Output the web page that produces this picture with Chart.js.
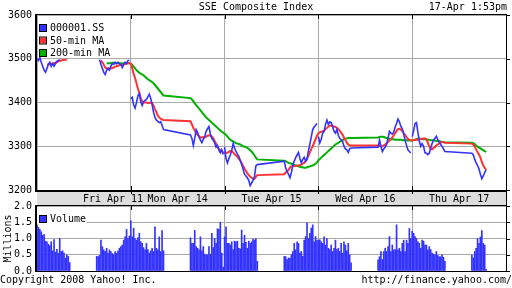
<!DOCTYPE html>
<html>
<head>
<meta charset="utf-8">
<script src="https://cdn.jsdelivr.net/npm/chart.js@4.4.1/dist/chart.umd.min.js"></script>
<style>
  html, body { margin: 0; padding: 0; background: #fff; }
  #wrap { position: relative; width: 512px; height: 288px; overflow: hidden; }
  #price { position: absolute; left: 0; top: 0; }
  #vol { position: absolute; left: 0; top: 195px; }
</style>
</head>
<body>
<div id="wrap">
  <canvas id="price" width="512" height="207"></canvas>
  <canvas id="vol" width="512" height="93"></canvas>
</div>
<script>
// one trading day = 66 five-minute slots (9:30 - 15:00), lunch 11:30-13:00 left empty
const DAY = 66;
const PM_START = 42;

const dayLabels = ['Fri Apr 11', 'Mon Apr 14', 'Tue Apr 15', 'Wed Apr 16', 'Thu Apr 17'];
const priceTicks = [3200, 3300, 3400, 3500, 3600];
const volTicks = [0, 0.5, 1.0, 1.5, 2.0];

// 000001.SS, 5-min closes (morning / afternoon session per day)
const closeAM = [
  [3500, 3496, 3503, 3492, 3483, 3474, 3469, 3478, 3487, 3492, 3483, 3489, 3483, 3489, 3494, 3496, 3498, null, null, null, null, null, null, null],
  [3409, 3412, 3394, 3387, 3400, 3415, 3420, 3402, 3393, 3401, 3405, 3407, 3413, 3419, 3410, 3395, 3378, 3366, 3360, 3357, 3354, 3356, 3348, 3338],
  [3298, 3272, 3262, 3272, 3280, 3290, 3306, 3296, 3288, 3282, 3277, 3268, 3258, 3248, 3236, 3232, 3228, 3222, 3210, 3216, 3222, 3230, 3255, 3258],
  [3322, 3308, 3316, 3330, 3334, 3350, 3360, 3350, 3356, 3354, 3345, 3334, 3330, 3338, 3325, 3318, 3315, 3311, 3300, 3294, 3292, 3286, 3294, 3296],
  [3322, 3335, 3352, 3354, 3332, 3312, 3300, 3306, 3300, 3285, 3284, 3281, 3284, 3296, 3306, 3314, 3318, 3323, 3315, 3311, 3304, 3300, 3294, 3288]
];
const closePM = [
  [null, null, 3498, 3487, 3478, 3469, 3464, 3474, 3478, 3474, 3483, 3489, 3487, 3492, 3489, 3492, 3489, 3487, 3480, 3487, 3492, 3489, 3496, 3496],
  [3326, 3318, 3302, 3318, 3338, 3332, 3321, 3314, 3308, 3316, 3322, 3334, 3340, 3345, 3328, 3318, 3314, 3308, 3298, 3302, 3291, 3285, 3292, 3281],
  [3266, 3250, 3242, 3236, 3228, 3240, 3256, 3266, 3274, 3280, 3286, 3272, 3262, 3270, 3275, 3266, 3270, 3290, 3305, 3322, 3338, 3344, 3348, 3352],
  [3298, 3314, 3300, 3288, 3294, 3298, 3304, 3318, 3334, 3330, 3328, 3332, 3344, 3352, 3362, 3356, 3346, 3340, 3328, 3314, 3302, 3292, 3288, 3285],
  [3284, 3280, 3270, 3262, 3256, 3248, 3236, 3226, 3232, 3240, 3246]
];

// 50-min MA
const ma50AM = [
  [null, null, null, null, null, null, null, 3487, 3487, 3488, 3488, 3489, 3490, 3491, 3492, 3494, 3495, 3496, 3497, 3497, 3498, 3498, null, null],
  [3489, 3478, 3466, 3456, 3444, 3432, 3422, 3410, 3403, 3401, 3400, 3400, 3399, 3399, 3400, 3399, 3393, 3385, 3378, 3370, 3366, 3363, 3361, 3360],
  [3285, 3285, 3285, 3287, 3289, 3289, 3286, 3282, 3279, 3276, 3271, 3267, 3262, 3255, 3249, 3244, 3238, 3234, 3231, 3228, 3226, 3226, 3230, 3234],
  [3330, 3332, 3333, 3334, 3336, 3339, 3342, 3345, 3347, 3347, 3346, 3345, 3344, 3342, 3339, 3335, 3331, 3326, 3320, 3314, 3308, 3304, 3302, 3302],
  [3313, 3314, 3315, 3315, 3315, 3316, 3316, 3317, 3318, 3318, 3316, 3308, 3300, 3294, 3293, 3296, 3298, 3302, 3304, 3307, 3308, 3310, 3309, 3308]
];
const ma50PM = [
  [null, null, null, 3496, 3492, 3486, 3480, 3478, 3478, 3478, 3478, 3479, 3480, 3482, 3483, 3484, 3485, 3486, 3486, 3487, 3488, 3489, 3490, 3490],
  [3357, 3350, 3342, 3336, 3330, 3326, 3323, 3320, 3320, 3321, 3320, 3322, 3324, 3325, 3324, 3322, 3318, 3312, 3306, 3298, 3294, 3291, 3289, 3286],
  [3236, 3240, 3243, 3246, 3251, 3254, 3255, 3255, 3255, 3256, 3256, 3257, 3258, 3260, 3262, 3266, 3272, 3278, 3286, 3294, 3300, 3308, 3316, 3324],
  [3302, 3301, 3300, 3300, 3302, 3304, 3307, 3310, 3313, 3316, 3320, 3325, 3330, 3335, 3339, 3340, 3338, 3335, 3330, 3326, 3321, 3317, 3315, 3314],
  [3306, 3304, 3300, 3293, 3286, 3281, 3274, 3264, 3256, 3251, 3246]
];

// 200-min MA
const ma200AM = [
  [null, null, null, null, null, null, null, null, null, null, null, null, null, null, null, null, null, null, null, null, null, null, null, null],
  [3489, 3486, 3482, 3478, 3474, 3471, 3468, 3466, 3464, 3462, 3459, 3456, 3453, 3451, 3449, 3447, 3444, 3440, 3436, 3432, 3428, 3424, 3420, 3416],
  [3329, 3326, 3322, 3318, 3315, 3313, 3311, 3309, 3307, 3306, 3305, 3304, 3302, 3300, 3299, 3298, 3296, 3294, 3291, 3288, 3284, 3279, 3274, 3270],
  [3268, 3271, 3274, 3277, 3280, 3283, 3286, 3289, 3292, 3295, 3298, 3301, 3304, 3306, 3308, 3310, 3312, 3314, 3316, 3317, 3318, 3319, 3319, 3319],
  [3313, 3314, 3315, 3316, 3317, 3317, 3317, 3316, 3316, 3316, 3316, 3315, 3315, 3314, 3314, 3313, 3313, 3312, 3312, 3311, 3311, 3310, 3310, 3309]
];
const ma200PM = [
  [null, null, null, null, null, null, null, 3489, 3490, 3490, 3490, 3491, 3491, 3490, 3490, 3490, 3490, 3490, 3489, 3490, 3490, 3490, 3490, 3490],
  [3410, 3407, 3403, 3398, 3394, 3390, 3386, 3382, 3378, 3374, 3370, 3366, 3363, 3360, 3357, 3354, 3351, 3348, 3345, 3342, 3339, 3336, 3333, 3331],
  [3267, 3266, 3264, 3262, 3261, 3260, 3259, 3257, 3256, 3255, 3254, 3253, 3252, 3252, 3251, 3251, 3252, 3253, 3254, 3255, 3256, 3258, 3260, 3263],
  [3320, 3321, 3322, 3322, 3321, 3320, 3319, 3318, 3317, 3316, 3316, 3316, 3315, 3315, 3315, 3315, 3315, 3314, 3314, 3314, 3314, 3313, 3313, 3313],
  [3308, 3307, 3305, 3302, 3299, 3297, 3295, 3293, 3291, 3289, 3287]
];

// volume, millions per 5 min
const volAM = [
  [1.40, 1.34, 1.28, 1.21, 1.10, 1.12, 0.92, 0.90, 0.82, 0.78, 0.90, 0.62, 0.97, 0.58, 0.67, 0.55, 1.00, 0.60, 0.62, 0.55, 0.40, 0.50, 0.45, 0.26],
  [1.55, 1.05, 1.32, 1.00, 0.95, 1.02, 1.16, 0.90, 0.85, 0.72, 0.65, 0.85, 0.66, 0.55, 0.62, 0.70, 0.60, 1.36, 0.70, 0.65, 1.05, 0.60, 1.24, 0.62],
  [1.05, 1.36, 0.85, 0.85, 0.80, 0.90, 0.66, 0.92, 0.90, 0.92, 0.70, 0.68, 1.26, 0.85, 1.10, 0.88, 0.70, 0.92, 0.85, 0.90, 0.98, 0.95, 1.00, 0.30],
  [0.95, 0.96, 0.90, 0.85, 1.05, 0.80, 1.00, 0.70, 0.66, 0.80, 0.60, 0.70, 0.95, 0.66, 0.70, 0.60, 0.85, 0.55, 0.90, 0.80, 0.62, 0.85, 0.50, 0.25],
  [1.22, 1.16, 1.06, 1.00, 0.90, 0.85, 0.70, 0.95, 0.92, 0.80, 0.80, 0.65, 0.75, 0.66, 0.55, 0.52, 0.50, 0.60, 0.48, 0.44, 0.44, 0.50, 0.42, 0.30]
];
const volPM = [
  [0.45, 0.44, 0.48, 0.95, 0.75, 0.65, 0.60, 0.70, 0.55, 0.65, 0.60, 0.54, 0.50, 0.60, 0.55, 0.62, 0.70, 0.75, 0.80, 0.95, 1.05, 1.28, 1.00, 1.08],
  [1.02, 0.85, 0.85, 1.25, 0.75, 0.70, 0.65, 1.05, 0.62, 0.75, 0.52, 0.50, 0.50, 0.75, 0.52, 1.16, 0.72, 1.00, 0.85, 1.30, 1.28, 1.50, 0.55, 0.12],
  [0.45, 0.44, 0.35, 0.40, 0.40, 0.50, 0.60, 0.85, 0.65, 0.90, 0.85, 0.55, 0.60, 0.45, 0.95, 1.06, 1.48, 1.00, 1.16, 1.32, 1.42, 0.90, 1.06, 0.95],
  [0.34, 0.44, 0.60, 0.35, 0.60, 0.70, 0.60, 0.75, 1.06, 0.60, 0.80, 0.65, 0.66, 1.42, 0.65, 0.70, 0.60, 0.85, 0.95, 0.60, 0.95, 0.85, 1.31, 1.00],
  [0.49, 0.40, 0.60, 0.70, 1.00, 0.85, 1.05, 1.24, 0.85, 0.80, 0.05]
];

const FONT = "'DejaVu Sans Mono', monospace";
const BLUE = '#3333ff';
const RED = '#ff3333';
const GREEN = '#00b000';
const GRID = '#aaaaaa';
const BAND = '#dddddd';

Chart.defaults.font.family = FONT;
Chart.defaults.font.size = 10;
Chart.defaults.color = '#000';

// turn the per-day arrays into {x, y} points; lunch slots are simply absent
function buildLine(am, pm, breakDays) {
  const pts = [];
  for (let d = 0; d < am.length; d++) {
    if (breakDays && d > 0) pts.push({ x: d * DAY - 0.5, y: null });
    am[d].forEach((v, i) => pts.push({ x: d * DAY + i, y: v }));
    pm[d].forEach((v, i) => pts.push({ x: d * DAY + PM_START + i, y: v }));
  }
  return pts;
}

function buildBars(am, pm) {
  const pts = [];
  for (let d = 0; d < am.length; d++) {
    am[d].forEach((v, i) => { if (v != null) pts.push({ x: d * DAY + i, y: v }); });
    pm[d].forEach((v, i) => { if (v != null) pts.push({ x: d * DAY + PM_START + i, y: v }); });
  }
  return pts;
}

const dayEdges = dayLabels.map((l, i) => i * DAY).concat([dayLabels.length * DAY]);

function xScale() {
  return {
    type: 'linear', min: 0, max: dayLabels.length * DAY, offset: false,
    afterBuildTicks: ax => { ax.ticks = dayEdges.map(v => ({ value: v })); },
    ticks: { display: false },
    grid: { color: GRID, drawTicks: false, offset: false },
    border: { display: false },
    afterFit: ax => { ax.height = 17; }
  };
}

function frame(ctx, a, tickVals, yScale) {
  ctx.fillStyle = '#000';
  ctx.fillRect(a.left - 1, a.top - 1, a.right - a.left + 2, 1);
  ctx.fillRect(a.left - 2, a.top - 1, 2, a.bottom - a.top + 2);
  ctx.fillRect(a.right, a.top - 1, 1, a.bottom - a.top + 2);
  tickVals.forEach(v => ctx.fillRect(a.right, Math.round(yScale.getPixelForValue(v)), 4, 1));
}

const pricePlugin = {
  id: 'priceDecor',
  beforeDraw(chart) {
    const ctx = chart.ctx;
    ctx.save();
    ctx.fillStyle = '#000';
    ctx.font = '10px ' + FONT;
    ctx.textBaseline = 'middle';
    ctx.textAlign = 'center';
    ctx.fillText('SSE Composite Index', 256, 7);
    ctx.textAlign = 'right';
    ctx.fillText('17-Apr 1:53pm', 507, 7);
    ctx.restore();
  },
  afterDatasetsDraw(chart) {
    const ctx = chart.ctx;
    const a = chart.chartArea;
    ctx.save();
    ctx.font = '10px ' + FONT;
    ctx.textBaseline = 'middle';
    ctx.textAlign = 'left';
    chart.data.datasets.forEach((ds, i) => {
      const y = 28 + i * 12.5;
      ctx.fillStyle = ds.borderColor;
      ctx.fillRect(a.left + 3, y - 3, 6, 6);
      ctx.strokeStyle = '#000';
      ctx.lineWidth = 1;
      ctx.strokeRect(a.left + 2.5, y - 3.5, 7, 7);
      ctx.fillStyle = '#000';
      ctx.fillText(ds.label, a.left + 13, y + 0.5);
    });
    ctx.restore();
  },
  afterDraw(chart) {
    const ctx = chart.ctx;
    const a = chart.chartArea;
    const xs = chart.scales.x;
    const ys = chart.scales.y;
    ctx.save();
    // date band between the two panels
    ctx.fillStyle = BAND;
    ctx.fillRect(a.left, a.bottom + 2, a.right - a.left, 13);
    ctx.fillStyle = '#000';
    ctx.fillRect(a.left - 2, a.bottom, a.right - a.left + 3, 2);
    ctx.fillRect(a.right, a.bottom, 1, 16);
    frame(ctx, a, priceTicks, ys);
    dayEdges.slice(1, -1).forEach(v => {
      const x = Math.round(xs.getPixelForValue(v));
      ctx.fillRect(x, a.top, 1, 4);
      ctx.fillRect(x, a.bottom - 4, 1, 4);
      ctx.fillRect(x, a.bottom + 2, 1, 2);
    });
    ctx.font = '10px ' + FONT;
    ctx.textBaseline = 'middle';
    ctx.textAlign = 'center';
    dayLabels.forEach((l, d) => {
      // the first (partial) day's label sits next to the second one
      const mid = d === 0 ? 53.5 : d * DAY + DAY / 2;
      ctx.fillText(l, xs.getPixelForValue(mid), a.bottom + 9);
    });
    ctx.restore();
  }
};

new Chart(document.getElementById('price'), {
  type: 'line',
  data: {
    datasets: [
      { label: '000001.SS', data: buildLine(closeAM, closePM, true), borderColor: BLUE, borderWidth: 1.6, pointRadius: 0, tension: 0, spanGaps: false },
      { label: '50-min MA', data: buildLine(ma50AM, ma50PM, false), borderColor: RED, borderWidth: 2, pointRadius: 0, tension: 0, spanGaps: false },
      { label: '200-min MA', data: buildLine(ma200AM, ma200PM, false), borderColor: GREEN, borderWidth: 2, pointRadius: 0, tension: 0, spanGaps: false }
    ]
  },
  options: {
    responsive: false,
    animation: false,
    layout: { padding: { left: 0, right: 6, top: 15, bottom: 0 } },
    plugins: { legend: { display: false }, tooltip: { enabled: false } },
    scales: {
      x: xScale(),
      y: {
        min: priceTicks[0], max: priceTicks[priceTicks.length - 1],
        afterBuildTicks: ax => { ax.ticks = priceTicks.map(v => ({ value: v })); },
        ticks: { padding: 5, callback: v => String(v) },
        grid: { color: GRID, drawTicks: false },
        border: { display: false },
        afterFit: ax => { ax.width = 37; }
      }
    }
  },
  plugins: [pricePlugin]
});

const volPlugin = {
  id: 'volDecor',
  beforeDatasetsDraw(chart) {
    const ctx = chart.ctx;
    const a = chart.chartArea;
    ctx.save();
    ctx.fillStyle = '#fff';
    ctx.fillRect(a.left, a.top + 1, 50, 17);
    const y = a.top + 13;
    ctx.fillStyle = BLUE;
    ctx.fillRect(a.left + 3, y - 3, 6, 6);
    ctx.strokeStyle = '#000';
    ctx.lineWidth = 1;
    ctx.strokeRect(a.left + 2.5, y - 3.5, 7, 7);
    ctx.fillStyle = '#000';
    ctx.font = '10px ' + FONT;
    ctx.textBaseline = 'middle';
    ctx.textAlign = 'left';
    ctx.fillText(chart.data.datasets[0].label, a.left + 13, y + 0.5);
    ctx.restore();
  },
  afterDraw(chart) {
    const ctx = chart.ctx;
    const a = chart.chartArea;
    const xs = chart.scales.x;
    ctx.save();
    frame(ctx, a, volTicks, chart.scales.y);
    ctx.fillRect(a.left - 2, a.bottom, a.right - a.left + 3, 1);
    dayEdges.slice(1, -1).forEach(v => {
      const x = Math.round(xs.getPixelForValue(v));
      ctx.fillRect(x, a.top, 1, 4);
    });
    ctx.font = '10px ' + FONT;
    ctx.textBaseline = 'middle';
    ctx.textAlign = 'left';
    ctx.fillText('Copyright 2008 Yahoo! Inc.', 0, 85);
    ctx.textAlign = 'right';
    ctx.fillText('http://finance.yahoo.com/', 512, 85);
    ctx.restore();
  }
};

new Chart(document.getElementById('vol'), {
  type: 'bar',
  data: {
    datasets: [
      { label: 'Volume', data: buildBars(volAM, volPM), backgroundColor: BLUE, barThickness: 1, grouped: false }
    ]
  },
  options: {
    responsive: false,
    animation: false,
    layout: { padding: { left: 0, right: 6, top: 11, bottom: 0 } },
    plugins: { legend: { display: false }, tooltip: { enabled: false } },
    scales: {
      x: xScale(),
      y: {
        min: volTicks[0], max: volTicks[volTicks.length - 1],
        afterBuildTicks: ax => { ax.ticks = volTicks.map(v => ({ value: v })); },
        ticks: { padding: 5, callback: v => v.toFixed(1) },
        title: { display: true, text: 'Millions', padding: 2 },
        grid: { color: GRID, drawTicks: false },
        border: { display: false },
        afterFit: ax => { ax.width = 37; }
      }
    }
  },
  plugins: [volPlugin]
});
</script>
</body>
</html>
